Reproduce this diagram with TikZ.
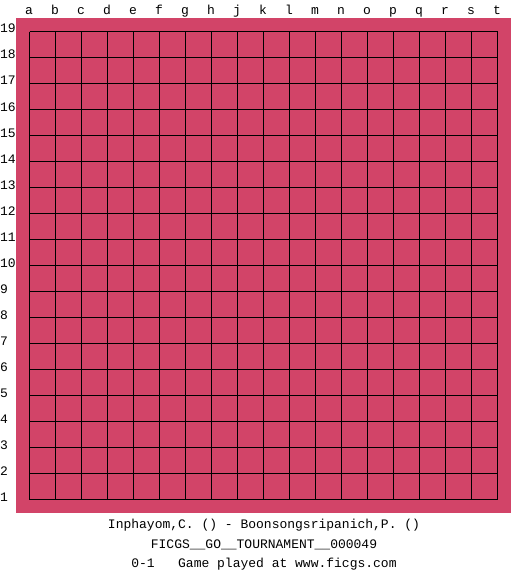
\documentclass[tikz,border=0pt]{standalone}
\usepackage{fontspec}
\setmonofont{Liberation Mono}
\usepackage{tikz}
\usetikzlibrary{positioning}
\definecolor{plateau}{RGB}{210,68,104}
\tikzstyle{etiquette} = [
    font = \ttfamily\fontsize{13}{13}\selectfont,
    inner sep = 0pt,
    text height = 9pt,
    text depth = 3pt,
]
\tikzstyle{ligne} = [
    draw = black,
    line width = 1pt,
]

\begin{document}
\begin{tikzpicture} [x = 1pt, y = -1pt, node distance = 19.5pt]
    \useasboundingbox (0, 0) rectangle (525, 575);

    % plateau
    \fill[plateau] (16, 18) rectangle (511, 513);
    \foreach \i in {0, ..., 18} {
        \draw[ligne] (29.5 + 26*\i, 31.7) -- (29.5 + 26*\i, 499.7);
        \draw[ligne] (29.5, 31.7 + 26*\i) -- (497.5, 31.7 + 26*\i);
    }

    % coordonnees
    \foreach \col [count = \i from 0] in {a, b, c, d, e, f, g, h, j, k, l, m, n, o, p, q, r, s, t} {
        \node (col-\col) [etiquette] at (29 + 26*\i, 11.5) {\col};
    }
    \foreach \rang in {1, ..., 19} {
        \node (rang-\rang) [etiquette, anchor = west] at (0, 30 + 26*19 - 26*\rang) {\rang};
    }

    % partie
    \node (Joueurs) [etiquette] at (264, 525.5) {Inphayom,C. () - Boonsongsripanich,P. ()};
    \node (Tournoi) [etiquette, below of = Joueurs] {FICGS\_\_GO\_\_TOURNAMENT\_\_000049};
    \node (Resultat) [etiquette, below of = Tournoi] {0-1\ \ \ Game played at www.ficgs.com};
\end{tikzpicture}
\end{document}
